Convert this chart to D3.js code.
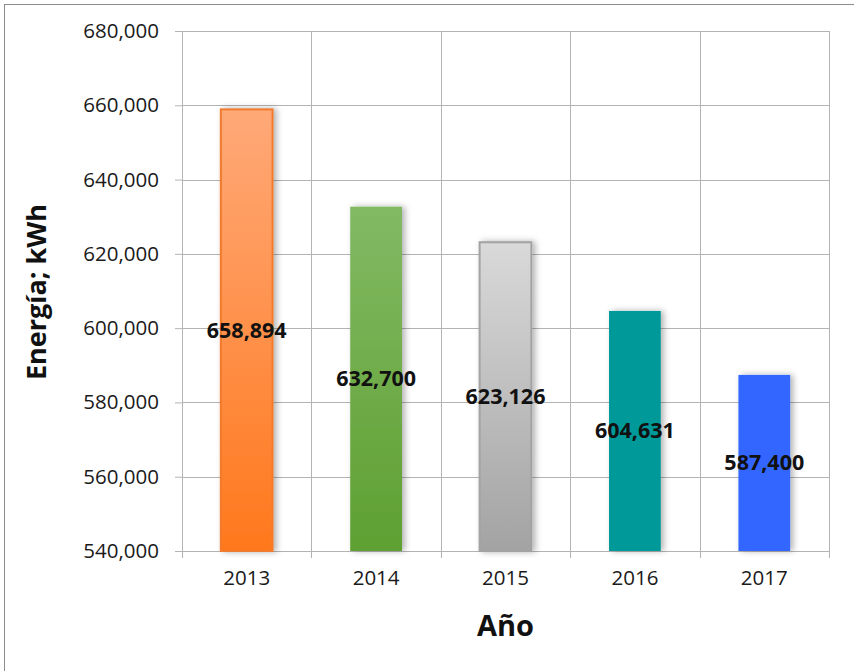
<!DOCTYPE html>
<html>
<head>
<meta charset="utf-8">
<script src="https://cdn.jsdelivr.net/npm/d3@7"></script>
<style>
  html, body { margin: 0; padding: 0; background: #fff; }
  svg { display: block; }
  text { font-family: "Open Sans", "Noto Sans", sans-serif; }
</style>
</head>
<body>
<div id="chart"></div>
<script>
const years = ["2013", "2014", "2015", "2016", "2017"];
const energy = [658894, 632700, 623126, 604631, 587400];
const yTicks = [540000, 560000, 580000, 600000, 620000, 640000, 660000, 680000];
const topColors = ["#FFA978", "#82B964", "#D9D9D9", "#009999", "#3366FF"];
const bottomColors = ["#FF781C", "#5EA031", "#A3A3A3", "#009999", "#3366FF"];
const strokeColors = ["#F07A2E", "none", "#A2A2A2", "none", "none"];
const yTitle = "Energía; kWh";
const xTitle = "Año";

const W = 854, H = 671;
const m = { left: 182, right: 25, top: 31, bottom: 120 };
const pw = W - m.left - m.right, ph = H - m.top - m.bottom;

const svg = d3.select("#chart").append("svg").attr("width", W).attr("height", H);
const defs = svg.append("defs");

years.forEach((y, i) => {
  const g = defs.append("linearGradient").attr("id", "grad" + i)
    .attr("x1", 0).attr("y1", 0).attr("x2", 0).attr("y2", 1);
  g.append("stop").attr("offset", "0%").attr("stop-color", topColors[i]);
  g.append("stop").attr("offset", "100%").attr("stop-color", bottomColors[i]);
});
const f = defs.append("filter").attr("id", "shadow")
  .attr("x", "-20%").attr("y", "-5%").attr("width", "150%").attr("height", "110%");
f.append("feDropShadow").attr("dx", 3).attr("dy", 0).attr("stdDeviation", 3)
  .attr("flood-color", "#000").attr("flood-opacity", 0.3);

// outer frame
svg.append("rect").attr("x", 4.5).attr("y", 4.5).attr("width", 880).attr("height", 720)
  .attr("fill", "none").attr("stroke", "#8c8c8c").attr("stroke-width", 1);

const g = svg.append("g").attr("transform", `translate(${m.left},${m.top})`);

const x = d3.scaleBand().domain(years).range([0, pw]).paddingInner(0.6).paddingOuter(0.3);
const y = d3.scaleLinear().domain([540000, 680000]).range([ph, 0]);

// horizontal gridlines
g.append("g").selectAll("line").data(yTicks).join("line")
  .attr("x1", 0).attr("x2", pw)
  .attr("y1", d => Math.round(y(d)) + 0.5).attr("y2", d => Math.round(y(d)) + 0.5)
  .attr("stroke", "#b3b3b3").attr("stroke-width", 1);

// vertical gridlines at category boundaries (extending below axis as ticks)
const step = pw / years.length;
const bounds = d3.range(years.length + 1).map(i => i * step);
g.append("g").selectAll("line").data(bounds).join("line")
  .attr("x1", d => Math.round(d) + 0.5).attr("x2", d => Math.round(d) + 0.5)
  .attr("y1", 0).attr("y2", ph + 7)
  .attr("stroke", "#b3b3b3").attr("stroke-width", 1);

// y axis
const yAxis = g.append("g").call(d3.axisLeft(y).tickValues(yTicks).tickSize(7).tickPadding(16)
  .tickFormat(d3.format(",")));
yAxis.select(".domain").attr("stroke", "#b3b3b3");
yAxis.selectAll(".tick line").attr("stroke", "#b3b3b3");
yAxis.selectAll("text").attr("font-size", 20.5).attr("fill", "#1a1a1a")
  .style("font-family", '"Open Sans", sans-serif');

// x axis labels
const xAxis = g.append("g").attr("transform", `translate(0,${ph})`)
  .call(d3.axisBottom(x).tickSize(0).tickPadding(19));
xAxis.select(".domain").attr("stroke", "#b3b3b3");
xAxis.selectAll("text").attr("font-size", 20.5).attr("fill", "#1a1a1a")
  .style("font-family", '"Open Sans", sans-serif');

// bars
g.append("g").selectAll("rect").data(energy).join("rect")
  .attr("x", (d, i) => x(years[i]))
  .attr("width", x.bandwidth())
  .attr("y", d => y(d))
  .attr("height", d => ph - y(d))
  .attr("fill", (d, i) => `url(#grad${i})`)
  .attr("stroke", (d, i) => strokeColors[i])
  .attr("stroke-width", 2)
  .attr("filter", "url(#shadow)");

// value labels centred in bars
g.append("g").selectAll("text").data(energy).join("text")
  .attr("x", (d, i) => x(years[i]) + x.bandwidth() / 2)
  .attr("y", d => (y(d) + ph) / 2)
  .attr("dy", "0.35em")
  .attr("text-anchor", "middle")
  .attr("font-size", 21.5).attr("font-weight", "bold").attr("fill", "#111")
  .text(d => d3.format(",")(d));

// axis titles
svg.append("text")
  .attr("transform", `translate(46,${m.top + 261}) rotate(-90)`)
  .attr("text-anchor", "middle")
  .attr("font-size", 27).attr("font-weight", "bold").attr("fill", "#111")
  .text(yTitle);
svg.append("text")
  .attr("x", m.left + pw / 2).attr("y", 636)
  .attr("text-anchor", "middle")
  .attr("font-size", 29).attr("font-weight", "bold").attr("fill", "#111")
  .text(xTitle);
</script>
</body>
</html>
